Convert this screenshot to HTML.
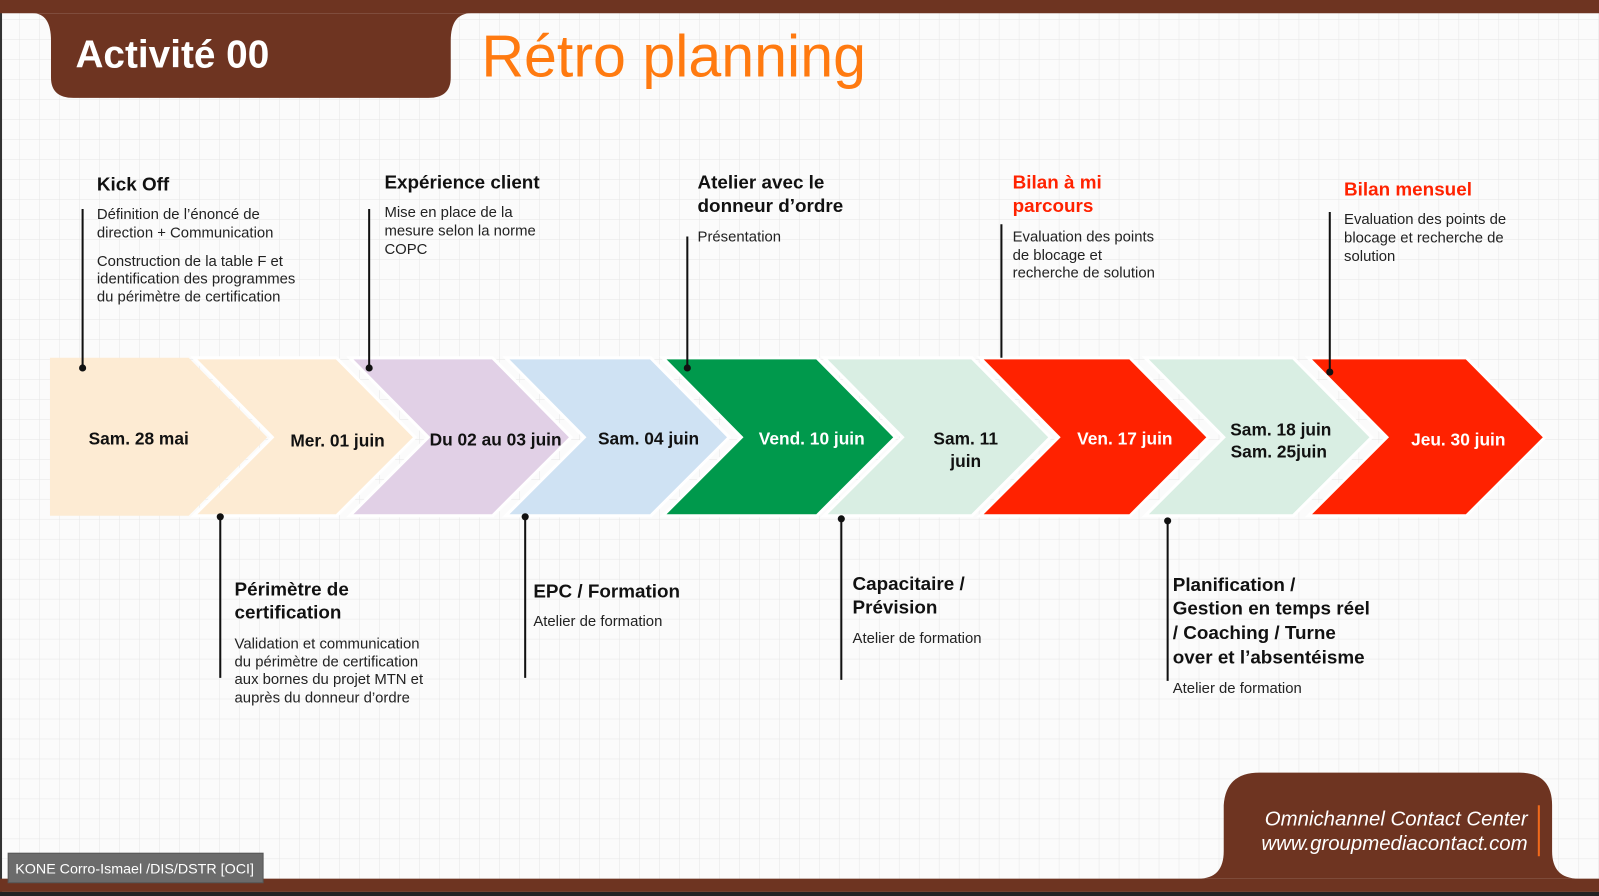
<!DOCTYPE html>
<html><head><meta charset="utf-8"><style>
html,body{margin:0;padding:0;width:1599px;height:896px;overflow:hidden;background:#fafafa}
svg{display:block}
text{font-family:"Liberation Sans",Arial,sans-serif}
.h{font-weight:bold;font-size:18.5px;fill:#111}
.r{fill:#FF2200}
.b{font-size:14.6px;fill:#222}
.d{font-weight:bold;font-size:17px;fill:#111;text-anchor:middle}
.w{fill:#fff}
</style></head><body>
<svg width="1599" height="896" viewBox="0 0 1568 879" preserveAspectRatio="none" xmlns="http://www.w3.org/2000/svg">
<defs><pattern id="g" width="19.6" height="19.6" patternUnits="userSpaceOnUse"><path d="M19.6 0V19.6H0" fill="none" stroke="#e6e6e6" stroke-width="1"/></pattern></defs>
<rect width="1568" height="879" fill="#fbfbfb"/>
<rect width="1568" height="879" fill="url(#g)"/>
<rect x="0" y="0" width="2" height="879" fill="#333"/>
<rect x="0" y="0" width="1568" height="13" fill="#6E3421"/>
<path d="M32 13 Q50 13 50 40 L50 76 Q50 96 72 96 L420 96 Q442 96 442 76 L442 40 Q442 13 462 13 Z" fill="#6E3421"/>
<text x="74" y="66" font-size="38" font-weight="bold" fill="#fff">Activité 00</text>
<text x="472" y="75" font-size="58" fill="#FF7A10">Rétro planning</text>
<g stroke="#fff" stroke-width="3" stroke-linejoin="miter">
<polygon points="49,351 185,351 262,429 185,506 49,506" fill="#FDEBD3" stroke="none"/>
<polygon points="190,351 330,351 407,429 330,506 190,506 267,429" fill="#FDEBD3"/>
<polygon points="343,351 483,351 560,429 483,506 343,506 420,429" fill="#E1D0E6"/>
<polygon points="496,351 638,351 715,429 638,506 496,506 573,429" fill="#CFE2F3"/>
<polygon points="650,351 801,351 878,429 801,506 650,506 727,429" fill="#00994C"/>
<polygon points="808,351 953,351 1030,429 953,506 808,506 885,429" fill="#D9EEE3"/>
<polygon points="961,351 1108,351 1185,429 1108,506 961,506 1038,429" fill="#FF2200"/>
<polygon points="1123,351 1268,351 1345,429 1268,506 1123,506 1200,429" fill="#D9EEE3"/>
<polygon points="1283,351 1438,351 1515,429 1438,506 1283,506 1360,429" fill="#FF2200"/>
</g>
<text class="d" x="136" y="436" font-size="14">Sam. 28 mai</text>
<text class="d" x="331" y="438">Mer. 01 juin</text>
<text class="d" x="486" y="437">Du 02 au 03 juin</text>
<text class="d" x="636" y="436">Sam. 04 juin</text>
<text class="d w" x="796" y="436">Vend. 10 juin</text>
<text class="d" x="947" y="436">Sam. 11</text><text class="d" x="947" y="458">juin</text>
<text class="d w" x="1103" y="436">Ven. 17 juin</text>
<text class="d" x="1256" y="427">Sam. 18 juin</text><text class="d" x="1254" y="449">Sam. 25juin</text>
<text class="d w" x="1430" y="437">Jeu. 30 juin</text>
<g stroke="#111" stroke-width="2">
<line x1="81" y1="205" x2="81" y2="361"/><line x1="362" y1="205" x2="362" y2="361"/>
<line x1="674" y1="232" x2="674" y2="361"/><line x1="982" y1="220" x2="982" y2="351"/>
<line x1="1304" y1="208" x2="1304" y2="365"/>
<line x1="216" y1="507" x2="216" y2="665"/><line x1="515" y1="507" x2="515" y2="665"/>
<line x1="825" y1="509" x2="825" y2="667"/><line x1="1145" y1="511" x2="1145" y2="668"/>
</g>
<g fill="#111"><circle cx="81" cy="361" r="3.5"/><circle cx="362" cy="361" r="3.5"/><circle cx="674" cy="361" r="3.5"/><circle cx="1304" cy="365" r="3.5"/>
<circle cx="216" cy="507" r="3.5"/><circle cx="515" cy="507" r="3.5"/><circle cx="825" cy="509" r="3.5"/><circle cx="1145" cy="511" r="3.5"/></g>
<text class="h" x="95" y="187">Kick Off</text>
<text class="b" x="95" y="215">Définition de l’énoncé de</text>
<text class="b" x="95" y="233">direction + Communication</text>
<text class="b" x="95" y="261">Construction de la table F et</text>
<text class="b" x="95" y="278">identification des programmes</text>
<text class="b" x="95" y="296">du périmètre de certification</text>
<text class="h" x="377" y="185">Expérience client</text>
<text class="b" x="377" y="213">Mise en place de la</text>
<text class="b" x="377" y="231">mesure selon la norme</text>
<text class="b" x="377" y="249">COPC</text>
<text class="h" x="684" y="185">Atelier avec le</text>
<text class="h" x="684" y="208">donneur d’ordre</text>
<text class="b" x="684" y="237">Présentation</text>
<text class="h r" x="993" y="185">Bilan à mi</text>
<text class="h r" x="993" y="208">parcours</text>
<text class="b" x="993" y="237">Evaluation des points</text>
<text class="b" x="993" y="255">de blocage et</text>
<text class="b" x="993" y="272">recherche de solution</text>
<text class="h r" x="1318" y="192">Bilan mensuel</text>
<text class="b" x="1318" y="220">Evaluation des points de</text>
<text class="b" x="1318" y="238">blocage et recherche de</text>
<text class="b" x="1318" y="256">solution</text>
<text class="h" x="230" y="584">Périmètre de</text>
<text class="h" x="230" y="607">certification</text>
<text class="b" x="230" y="636">Validation et communication</text>
<text class="b" x="230" y="654">du périmètre de certification</text>
<text class="b" x="230" y="671">aux bornes du projet MTN et</text>
<text class="b" x="230" y="689">auprès du donneur d’ordre</text>
<text class="h" x="523" y="586">EPC / Formation</text>
<text class="b" x="523" y="614">Atelier de formation</text>
<text class="h" x="836" y="579">Capacitaire /</text>
<text class="h" x="836" y="602">Prévision</text>
<text class="b" x="836" y="631">Atelier de formation</text>
<text class="h" x="1150" y="580">Planification /</text>
<text class="h" x="1150" y="603">Gestion en temps réel</text>
<text class="h" x="1150" y="627">/ Coaching / Turne</text>
<text class="h" x="1150" y="651">over et l’absentéisme</text>
<text class="b" x="1150" y="680">Atelier de formation</text>
<rect x="0" y="862" width="1568" height="13" fill="#6E3421"/>
<rect x="0" y="875" width="1568" height="4" fill="#222"/>
<path d="M1175 862 Q1200 862 1200 835 L1200 790 Q1202 758 1235 758 L1490 758 Q1522 758 1522 790 L1522 835 Q1522 862 1548 862 Z" fill="#6E3421"/>
<text x="1498" y="810" font-size="20" font-style="italic" fill="#fff" text-anchor="end">Omnichannel Contact Center</text>
<text x="1498" y="834" font-size="20" font-style="italic" fill="#fff" text-anchor="end">www.groupmediacontact.com</text>
<rect x="1508" y="790" width="2" height="50" fill="#F26A1B"/>
<rect x="8" y="837" width="250" height="29" fill="#6b6b6b" stroke="#555"/>
<text x="15" y="857" font-size="14" fill="#fff">KONE Corro-Ismael /DIS/DSTR [OCI]</text>
</svg>
</body></html>
